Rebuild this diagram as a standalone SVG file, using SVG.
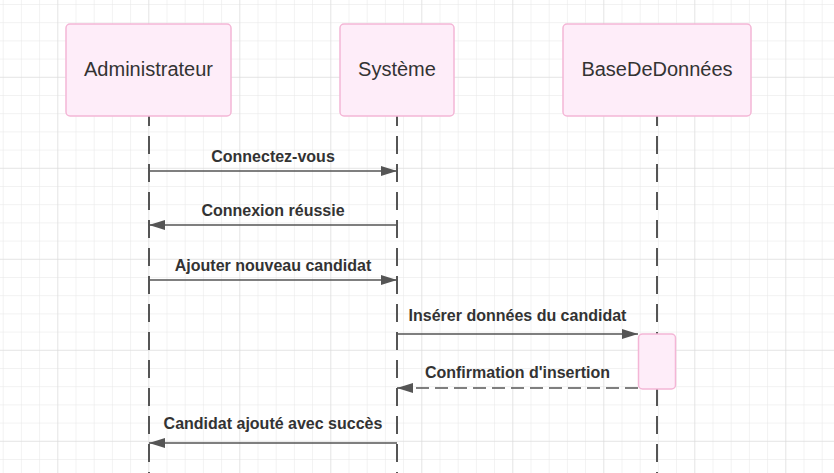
<svg xmlns="http://www.w3.org/2000/svg" width="834" height="473" viewBox="0 0 834 473">
<style>
.actor rect{fill:#feedf9;stroke:#f4b6d6;stroke-width:1.5}
.actor text{font-family:"Liberation Sans",Arial,sans-serif;font-size:20px;fill:#333;text-anchor:middle}
.life{stroke:#555;stroke-width:2;stroke-dasharray:18 10}
.msg{stroke:#555;stroke-width:1.5;fill:none}
.dash{stroke-dasharray:13 6}
.lbl{font-family:"Liberation Sans",Arial,sans-serif;font-size:16px;font-weight:bold;fill:#333;text-anchor:middle}
.act{fill:#feedf9;stroke:#f4b6d6;stroke-width:1.5}
</style>
<defs>
<pattern id="minor" width="18.2" height="18.2" patternUnits="userSpaceOnUse" x="2.7" y="4">
<path d="M0,0 H18.2 M0,0 V18.2" stroke="#e6e6e6" stroke-width="1" fill="none"/>
</pattern>
<pattern id="major" width="91" height="91" patternUnits="userSpaceOnUse" x="-33.7" y="-14.2">
<path d="M0,0 H91 M0,0 V91" stroke="#d9d9d9" stroke-width="1" fill="none"/>
</pattern>
<marker id="ah" markerUnits="userSpaceOnUse" markerWidth="16" markerHeight="10" refX="16" refY="5" orient="auto">
<path d="M0,0 L16,5 L0,10 z" fill="#555"/>
</marker>
</defs>
<rect width="834" height="473" fill="#fff"/>
<rect width="834" height="473" fill="url(#minor)"/>
<rect width="834" height="473" fill="url(#major)"/>
<g id="lifelines">
<line class="life" x1="149" y1="108" x2="149" y2="473"/>
<line class="life" x1="397" y1="108" x2="397" y2="473"/>
<line class="life" x1="657" y1="108" x2="657" y2="473"/>
</g>
<g id="actor-admin" class="actor"><rect x="66" y="24" width="165" height="92" rx="4"/><text x="148.5" y="75.5">Administrateur</text></g>
<g id="actor-systeme" class="actor"><rect x="340" y="24" width="114" height="92" rx="4"/><text x="397" y="75.5">Système</text></g>
<g id="actor-bdd" class="actor"><rect x="563" y="24" width="188" height="92" rx="4"/><text x="657" y="75.5">BaseDeDonnées</text></g>
<g id="activation"><rect class="act" x="638.5" y="334" width="37" height="55" rx="4"/></g>
<g id="connectors">
<line class="msg" x1="149" y1="171" x2="397" y2="171" marker-end="url(#ah)"/>
<line class="msg" x1="397" y1="225" x2="149" y2="225" marker-end="url(#ah)"/>
<line class="msg" x1="149" y1="280" x2="397" y2="280" marker-end="url(#ah)"/>
<line class="msg" x1="397" y1="334" x2="638" y2="334" marker-end="url(#ah)"/>
<line class="msg dash" x1="638" y1="388" x2="397" y2="388" marker-end="url(#ah)"/>
<line class="msg" x1="397" y1="443" x2="149" y2="443" marker-end="url(#ah)"/>
</g>
<g id="labels">
<text class="lbl" x="273" y="161.5">Connectez-vous</text>
<text class="lbl" x="273" y="216">Connexion réussie</text>
<text class="lbl" x="273" y="270.5">Ajouter nouveau candidat</text>
<text class="lbl" x="517.5" y="321">Insérer données du candidat</text>
<text class="lbl" x="517.5" y="378">Confirmation d'insertion</text>
<text class="lbl" x="273" y="428.5">Candidat ajouté avec succès</text>
</g>
</svg>
